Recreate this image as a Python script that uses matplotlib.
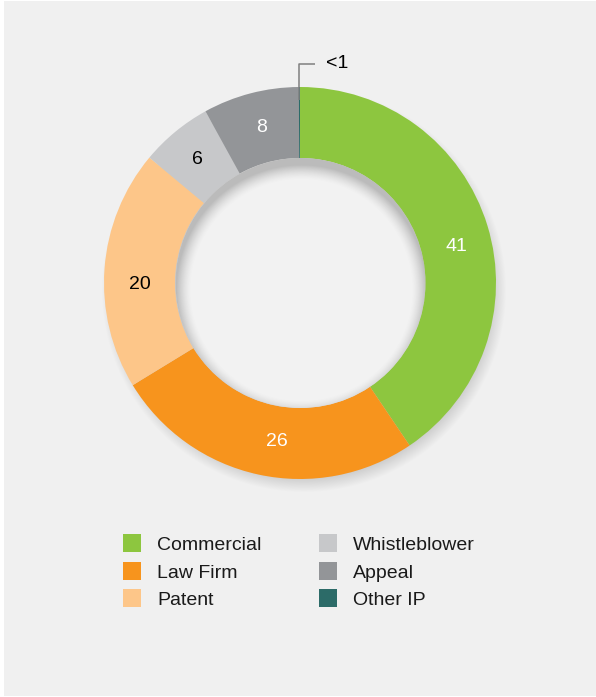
import numpy as np
import matplotlib
matplotlib.use("Agg")
import matplotlib.pyplot as plt
from matplotlib.patches import Rectangle, Circle

plt.rcParams['font.family'] = ['Liberation Sans', 'DejaVu Sans']

# --- data ---
categories = ["Commercial", "Law Firm", "Patent", "Whistleblower", "Appeal", "Other IP"]
values = [41, 26, 20, 6, 8, 0.1]
labels = ["41", "26", "20", "6", "8", "<1"]
colors = ["#8dc63f", "#f7941d", "#fdc689", "#c7c8ca", "#939598", "#2c6b68"]
label_colors = ["white", "white", "black", "black", "white", None]
# small hand nudges (degrees) so labels sit where the original put them
label_nudge = [-3.7, 3.9, 4.6, 0.0, -0.8, 0.0]

# --- layout (pixels, y measured from top) ---
W, H = 596, 697
cx, cy = 300, 283
R, r_in = 196, 125

fig = plt.figure(figsize=(W / 100, H / 100), dpi=100, facecolor="white")
ax = fig.add_axes([0, 0, 1, 1])

# panel background
ax.add_patch(Rectangle((4, 1), W - 4, H - 2, facecolor="#f0f0f0", edgecolor="none", zorder=0))

yy, xx = np.mgrid[0:H, 0:W] + 0.5
cyd = H - cy  # centre in data coords (y up)

# outer drop shadow (offset down/right, blurred)
d = np.hypot(xx - (cx + 4), yy - (cy + 7))
blur = 16.0
a = np.clip((R + blur * 0.4 - d) / blur, 0, 1) * 0.3
shadow = np.zeros((H, W, 4))
shadow[..., 0:3] = 0.45
shadow[..., 3] = a
ax.imshow(shadow, extent=(0, W, 0, H), origin="upper", zorder=1, interpolation="bilinear")

# donut
wedges, _ = ax.pie(values, colors=colors, startangle=90, counterclock=False,
                   radius=R, center=(cx, cyd), frame=True,
                   wedgeprops=dict(width=R - r_in, linewidth=0))
for w in wedges:
    w.set_zorder(2)

# hole with inner shadow along its top rim
ax.add_patch(Circle((cx + 0.5, cyd), r_in, facecolor="#f2f2f2", edgecolor="none", zorder=3))
d2 = np.hypot(xx - (cx + 1.5), yy - (cy + 7))
a2 = np.clip(1 - (r_in - d2) / 15.0, 0, 1) ** 1.5 * 0.33
inner = np.zeros((H, W, 4))
inner[..., 0:3] = 0.3
inner[..., 3] = a2
im = ax.imshow(inner, extent=(0, W, 0, H), origin="upper", zorder=4, interpolation="bilinear")
im.set_clip_path(Circle((cx + 0.5, cyd), r_in, transform=ax.transData))

ax.set_xlim(0, W)
ax.set_ylim(0, H)
ax.set_aspect("auto")
ax.axis("off")

# value labels at ring middle
r_mid = (R + r_in) / 2
total = sum(values)
start = 90.0
for v, lab, lc, nud in zip(values, labels, label_colors, label_nudge):
    mid = start - v / total * 360 / 2 + nud
    start -= v / total * 360
    if lc is None:
        continue
    t = np.deg2rad(mid)
    ax.text(cx + r_mid * np.cos(t), cyd + r_mid * np.sin(t), lab, color=lc,
            fontsize=14, ha="center", va="center", zorder=5)

# leader for the tiny slice
ax.plot([299, 299, 315], [H - 100, H - 64, H - 64], color="#7f7f7f", lw=1.1, zorder=6,
        solid_capstyle="butt")
ax.text(326, H - 64, labels[-1], fontsize=14, ha="left", va="center", color="black", zorder=6)

# legend (two columns of three)
for i, (cat, col) in enumerate(zip(categories, colors)):
    c, row = divmod(i, 3)
    x0 = 123 + c * 196
    yc = 543 + row * 27.5
    ax.add_patch(Rectangle((x0, H - yc - 9), 18, 18, facecolor=col, edgecolor="none", zorder=5))
    ax.text(x0 + 34, H - yc - 2.5, cat, fontsize=14, ha="left", va="center", color="#1a1a1a", zorder=5)

fig.savefig("out.png", dpi=100, facecolor="white")
